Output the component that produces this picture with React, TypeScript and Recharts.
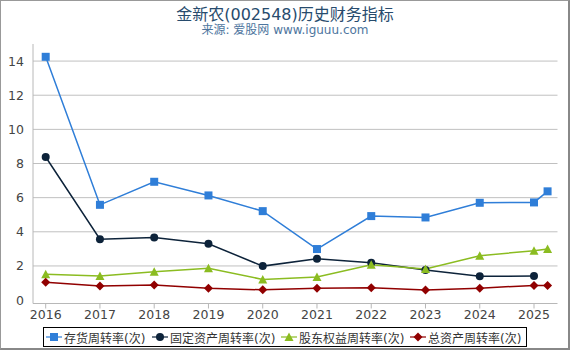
import React from 'react'
import { LineChart, Line, XAxis, YAxis, CartesianGrid } from 'recharts'

const periods = [2016, 2017, 2018, 2019, 2020, 2021, 2022, 2023, 2024, 2025, 2025.25]
const inventoryTurnover = [14.25, 5.58, 6.93, 6.13, 5.21, 2.99, 4.92, 4.84, 5.7, 5.72, 6.37]
const fixedAssetTurnover = [8.38, 3.57, 3.67, 3.3, 1.99, 2.42, 2.19, 1.76, 1.39, 1.41, null]
const equityTurnover = [1.51, 1.41, 1.66, 1.87, 1.21, 1.35, 2.07, 1.82, 2.6, 2.89, 2.99]
const totalAssetTurnover = [1.04, 0.82, 0.88, 0.7, 0.6, 0.69, 0.72, 0.59, 0.7, 0.86, 0.86]
const yearTicks = [2016, 2017, 2018, 2019, 2020, 2021, 2022, 2023, 2024, 2025]
const valueTicks = [0, 2, 4, 6, 8, 10, 12, 14]

const FONT = '"DejaVu Sans", "Noto Sans CJK SC", sans-serif'

type Shape = 'square' | 'circle' | 'triangle' | 'diamond'

const SERIES: { key: string; name: string; color: string; shape: Shape }[] = [
  { key: 'inventory', name: '存货周转率(次)', color: '#2f7ed8', shape: 'square' },
  { key: 'fixed', name: '固定资产周转率(次)', color: '#0d233a', shape: 'circle' },
  { key: 'equity', name: '股东权益周转率(次)', color: '#8bbc21', shape: 'triangle' },
  { key: 'total', name: '总资产周转率(次)', color: '#910000', shape: 'diamond' },
]

// legend item left edges, px
const LEGEND_X = [46, 152, 281, 410]

const data = periods.map((p, i) => ({
  period: p,
  inventory: inventoryTurnover[i],
  fixed: fixedAssetTurnover[i],
  equity: equityTurnover[i],
  total: totalAssetTurnover[i],
}))

function marker(shape: Shape, color: string, cx: number, cy: number, key?: string | number) {
  if (shape === 'square') return <rect key={key} x={cx - 4} y={cy - 4} width={8} height={8} fill={color} />
  if (shape === 'circle') return <circle key={key} cx={cx} cy={cy} r={4} fill={color} />
  if (shape === 'triangle')
    return <path key={key} d={`M${cx},${cy - 4.5}L${cx + 4.5},${cy + 4}L${cx - 4.5},${cy + 4}Z`} fill={color} />
  return <path key={key} d={`M${cx},${cy - 4.5}L${cx + 4.5},${cy}L${cx},${cy + 4.5}L${cx - 4.5},${cy}Z`} fill={color} />
}

function makeDot(shape: Shape, color: string) {
  return (props: any) => {
    const { cx, cy, value, index } = props
    if (value == null || cy == null || isNaN(cy)) return <g key={index} />
    return marker(shape, color, cx, cy, index)
  }
}

export default function App() {
  return (
    <div style={{ position: 'relative', width: 570, height: 350, fontFamily: FONT, background: '#fff' }}>
      <style>{'body{margin:0}'}</style>
      <div style={{ position: 'absolute', top: 1, left: 0, width: 570, textAlign: 'center', fontSize: 16, color: '#274b6d' }}>
        金新农(002548)历史财务指标
      </div>
      <div style={{ position: 'absolute', top: 20, left: 0, width: 570, textAlign: 'center', fontSize: 12, color: '#4d759e' }}>
        来源: 爱股网 www.iguuu.com
      </div>
      <LineChart
        width={570}
        height={350}
        data={data}
        margin={{ top: 44, right: 12.5, left: 0, bottom: 16.5 }}
      >
        <CartesianGrid vertical={false} stroke="#c0c0c0" horizontalValues={[2, 4, 6, 8, 10, 12, 14]} />
        <XAxis
          dataKey="period"
          type="number"
          domain={[2015.766, 2025.433]}
          ticks={yearTicks}
          allowDataOverflow
          height={30}
          stroke="#b8b8b8"
          tickSize={5}
          tickMargin={2}
          tick={{ fontSize: 12.5, fill: '#444', fontFamily: FONT }}
        />
        <YAxis
          type="number"
          domain={[-0.2, 15]}
          ticks={valueTicks}
          allowDataOverflow
          width={33}
          stroke="#b8b8b8"
          tickLine={false}
          tickSize={0}
          tickMargin={9}
          tick={{ fontSize: 12.5, fill: '#444', fontFamily: FONT }}
        />
        {SERIES.map((s) => (
          <Line
            key={s.key}
            dataKey={s.key}
            name={s.name}
            stroke={s.color}
            strokeWidth={1.5}
            dot={makeDot(s.shape, s.color)}
            activeDot={false}
            isAnimationActive={false}
          />
        ))}
      </LineChart>
      <div
        style={{
          position: 'absolute',
          left: 43,
          top: 327,
          width: 484,
          height: 20,
          boxSizing: 'border-box',
          border: '1px solid #000',
          fontSize: 12,
          color: '#333',
        }}
      >
        {SERIES.map((s, i) => (
          <div
            key={s.key}
            style={{
              position: 'absolute',
              left: LEGEND_X[i] - 44,
              top: 0,
              height: 18,
              display: 'flex',
              alignItems: 'center',
              whiteSpace: 'nowrap',
            }}
          >
            <svg width={16} height={10} style={{ marginRight: 2, flexShrink: 0 }}>
              <line x1={0} y1={5} x2={16} y2={5} stroke={s.color} strokeWidth={2} opacity={0.6} />
              {marker(s.shape, s.color, 8, 5)}
            </svg>
            <span>{s.name}</span>
          </div>
        ))}
      </div>
      <div
        style={{
          position: 'absolute',
          inset: 0,
          boxSizing: 'border-box',
          borderLeft: '1px solid #999',
          borderTop: '1px solid #999',
          borderRight: '2px solid #888',
          borderBottom: '2px solid #888',
          pointerEvents: 'none',
        }}
      />
    </div>
  )
}
